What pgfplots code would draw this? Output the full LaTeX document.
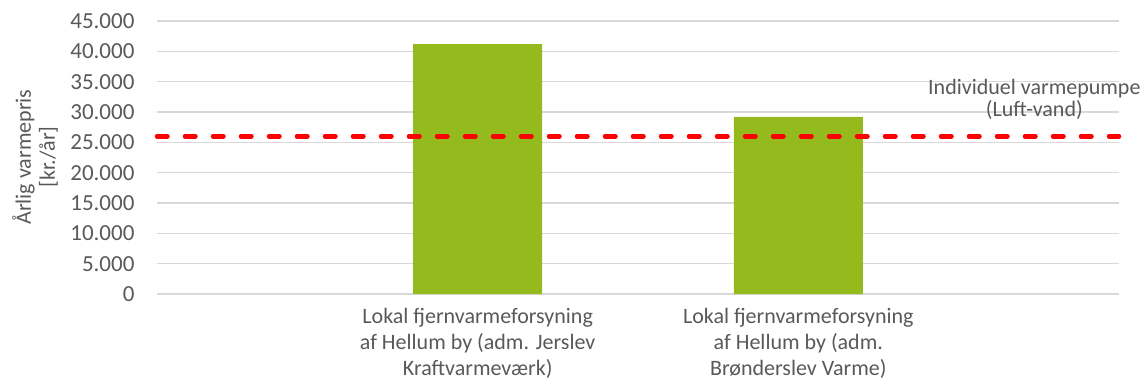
\documentclass[border=0pt]{standalone}
\usepackage{pgfplots}
\pgfplotsset{compat=1.18}
\usepackage{fontspec}
\setmainfont{Carlito}
\definecolor{barg}{RGB}{148,186,30}
\definecolor{txtg}{RGB}{89,89,89}
\definecolor{gridg}{RGB}{217,217,217}
\begin{document}
\begin{tikzpicture}
\begin{axis}[
  scale only axis,
  width=962pt, height=273pt,
  xmin=0, xmax=3,
  ymin=0, ymax=45000,
  ytick={0,5000,...,45000},
  scaled y ticks=false,
  /pgf/number format/.cd, 1000 sep={.}, assume math mode=true,
  /pgfplots/.cd,
  xtick={1,2},
  xticklabels={{Lokal fjernvarmeforsyning\\af Hellum by (adm. Jerslev\\Kraftvarmeværk)},{Lokal fjernvarmeforsyning\\af Hellum by (adm.\\Brønderslev Varme)}},
  xticklabel style={align=center, font=\fontsize{22}{26}\selectfont, text=txtg, yshift=-11pt},
  yticklabel style={font=\fontsize{23}{26}\selectfont, text=txtg, xshift=-19pt},
  axis line style={draw=none},
  major tick length=0pt,
  ymajorgrids,
  grid style={gridg, line width=1.5pt},
  clip=false,
]
\addplot[ybar, bar width=129pt, fill=barg, draw=none] coordinates {(1,41200) (2,29200)};
\addplot[red, line width=4.5pt, line cap=round, dash pattern=on 10.5pt off 17.5pt] coordinates {(0,26000) (3,26000)};
\node[align=center, font=\fontsize{22}{22}\selectfont, text=txtg] at (rel axis cs:0.912,0.712) {Individuel varmepumpe\\(Luft-vand)};
\end{axis}
\node[rotate=90, align=center, font=\fontsize{22}{24}\selectfont, text=txtg] at (-122pt,137pt) {Årlig varmepris\\{[kr./år]}};
\pgfresetboundingbox
\path[use as bounding box] (-157pt,-89pt) rectangle (987pt,294pt);
\end{tikzpicture}
\end{document}
